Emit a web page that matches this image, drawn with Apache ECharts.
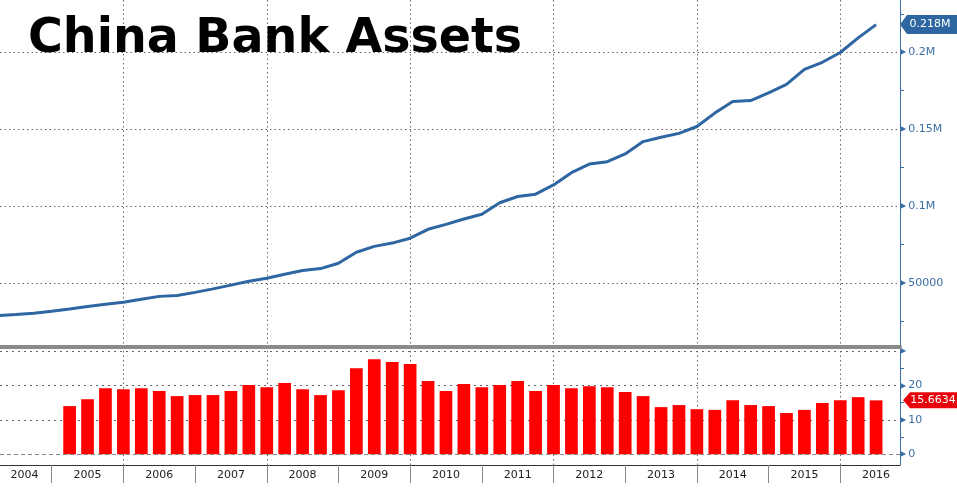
<!DOCTYPE html>
<html><head><meta charset="utf-8">
<script src="https://cdn.jsdelivr.net/npm/echarts@6/dist/echarts.min.js"></script>
<style>html,body{margin:0;padding:0;background:#fff;}#c{width:957px;height:488px;}</style>
</head><body><div id="c"></div>
<script>
// ---- data ----
const quarters = [
 '2004Q1','2004Q2','2004Q3','2004Q4','2005Q1','2005Q2','2005Q3','2005Q4',
 '2006Q1','2006Q2','2006Q3','2006Q4','2007Q1','2007Q2','2007Q3','2007Q4',
 '2008Q1','2008Q2','2008Q3','2008Q4','2009Q1','2009Q2','2009Q3','2009Q4',
 '2010Q1','2010Q2','2010Q3','2010Q4','2011Q1','2011Q2','2011Q3','2011Q4',
 '2012Q1','2012Q2','2012Q3','2012Q4','2013Q1','2013Q2','2013Q3','2013Q4',
 '2014Q1','2014Q2','2014Q3','2014Q4','2015Q1','2015Q2','2015Q3','2015Q4',
 '2016Q1','2016Q2'];
const assets = [
 28700, 29500, 30360, 31660, 33100, 34700, 36150, 37500,
 39470, 41300, 41900, 43900, 46160, 48630, 51170, 53100,
 55660, 58130, 59360, 62870, 69960, 73800, 75940, 79130,
 84920, 88100, 91600, 94730, 102200, 106240, 107740, 113780,
 121700, 127300, 128870, 133940, 141940, 144730, 147270, 151760,
 160470, 168000, 168600, 173600, 179130, 188880, 193500, 199870,
 209360, 218000];
const growthQuarters = quarters.slice(4);
const growth = [
 14.0, 16.0, 19.2, 18.9, 19.2, 18.4, 16.9, 17.2,
 17.2, 18.4, 20.1, 19.5, 20.7, 18.9, 17.2, 18.6,
 25.0, 27.6, 26.8, 26.2, 21.3, 18.4, 20.4, 19.5,
 20.1, 21.3, 18.4, 20.1, 19.2, 19.8, 19.5, 18.1,
 16.9, 13.7, 14.3, 13.1, 12.9, 15.7, 14.3, 14.0,
 12.0, 12.9, 14.9, 15.7, 16.6, 15.6634];
const yearLabels = ['2004','2005','2006','2007','2008','2009','2010','2011','2012','2013','2014','2015','2016'];
const assetTicks = [50000, 100000, 150000, 200000];
const growthTicks = [0, 10, 20, 30];

// ---- helpers ----
const qx = q => parseInt(q.slice(0, 4), 10) + parseInt(q.slice(5), 10) / 4;
const XMIN = 2004.279, XMAX = 2016 + 10 / 12;
const tickYears = yearLabels.slice(1).map(Number);
const labelPos = yearLabels.map((y, i) => i === 0 ? (XMIN + Number(y) + 1) / 2 - 0.02 : Number(y) + 0.5);
const FONT = 'DejaVu Sans';
const BLUE = '#3a6ea5';
const LINEBLUE = '#2e66a2';
const grid = (o) => Object.assign({left: 0, right: 57, containLabel: false}, o);
const fmtAsset = v => v >= 100000 ? (v / 1e6) + 'M' : String(v);
const tag = 'path://M0,8 L7,0 L60,0 L60,16 L7,16 Z';
const dotted = {color: '#666', type: [1.5, 3], width: 1};
const richLbl = {a: {fontSize: 8, color: BLUE, fontFamily: FONT},
                 b: {fontSize: 11, color: BLUE, fontFamily: FONT, padding: [0, 0, 0, 2]}};

const chart = echarts.init(document.getElementById('c'), null, {renderer: 'canvas'});
chart.setOption({
  animation: false,
  backgroundColor: '#fff',
  title: {
    text: 'China Bank Assets', left: 23, top: 11,
    textStyle: {fontFamily: FONT, fontWeight: 'bold', fontSize: 47.5, color: '#000'}
  },
  grid: [
    grid({top: 0, height: 465}),
    grid({top: 0, height: 346.7}),
    grid({top: 348.7, height: 105.6})
  ],
  xAxis: [
    {gridIndex: 0, type: 'value', min: XMIN, max: XMAX, position: 'bottom',
     axisLine: {show: true, onZero: false, lineStyle: {color: '#333', width: 1}},
     axisTick: {show: true, length: 18, lineStyle: {color: '#888'}, customValues: tickYears},
     axisLabel: {show: true, customValues: labelPos, formatter: v => String(Math.floor(v)),
                 color: '#222', fontFamily: FONT, fontSize: 11, margin: 5},
     splitLine: {show: false}},
    {gridIndex: 0, type: 'value', min: XMIN, max: XMAX, minInterval: 2, maxInterval: 2,
     axisLine: {show: false, onZero: false}, axisTick: {show: false}, axisLabel: {show: false},
     splitLine: {show: true, showMinLine: false, showMaxLine: false, lineStyle: dotted}},
    {gridIndex: 1, type: 'value', min: XMIN, max: XMAX, show: false},
    {gridIndex: 2, type: 'value', min: XMIN, max: XMAX, position: 'top', offset: 2, z: 10,
     axisLine: {show: true, onZero: false, lineStyle: {color: '#8a8a8a', width: 4}},
     axisTick: {show: false}, axisLabel: {show: false}, splitLine: {show: false}}
  ],
  yAxis: [
    {gridIndex: 0, type: 'value', position: 'right', min: 0, max: 1, z: 5,
     axisLine: {show: true, onZero: false, lineStyle: {color: BLUE, width: 1}},
     axisTick: {show: false}, axisLabel: {show: false}, splitLine: {show: false}},
    {gridIndex: 1, type: 'value', position: 'right', min: 8580, max: 234000,
     minInterval: 50000, maxInterval: 50000,
     axisLine: {show: false, onZero: false}, axisTick: {show: false},
     minorTick: {show: true, splitNumber: 2, length: 4, lineStyle: {color: BLUE}},
     axisLabel: {show: true, margin: 0, showMinLabel: true, showMaxLabel: true,
       formatter: v => assetTicks.indexOf(v) >= 0 ? '{a|▶}{b|' + fmtAsset(v) + '}' : '',
       rich: richLbl},
     splitLine: {show: true, showMinLine: false, showMaxLine: false, lineStyle: dotted}},
    {gridIndex: 2, type: 'value', position: 'right', min: 0, max: 30.67,
     minInterval: 10, maxInterval: 10,
     axisLine: {show: false, onZero: false}, axisTick: {show: false},
     minorTick: {show: true, splitNumber: 2, length: 4, lineStyle: {color: BLUE}},
     axisLabel: {show: true, margin: 0,
       formatter: v => growthTicks.indexOf(v) < 0 ? '' : (v === 30 ? '{a|▶}' : '{a|▶}{b|' + v + '}'),
       rich: richLbl},
     splitLine: {show: true, showMinLine: false, showMaxLine: false,
                 lineStyle: {color: '#666', type: [2, 4], width: 1}}}
  ],
  series: [
    {type: 'line', xAxisIndex: 2, yAxisIndex: 1, clip: false,
     data: assets.map((v, i) => [qx(quarters[i]), v]),
     symbol: 'none', showSymbol: false, smooth: false,
     lineStyle: {color: LINEBLUE, width: 3}, z: 3,
     markPoint: {symbol: tag, symbolSize: [60, 19], symbolOffset: [30, 0], symbolKeepAspect: false,
       itemStyle: {color: LINEBLUE},
       label: {show: true, color: '#fff', fontFamily: FONT, fontSize: 11,
               formatter: p => (p.value / 1e6).toFixed(3) + 'M'},
       data: [{coord: [XMAX, assets[assets.length - 1]], value: assets[assets.length - 1]}]}},
    {type: 'bar', xAxisIndex: 3, yAxisIndex: 2, clip: false,
     data: growth.map((v, i) => [qx(growthQuarters[i]), v]),
     barWidth: 12.7, itemStyle: {color: '#ff0000'}, z: 3,
     markLine: {silent: true, symbol: ['none', 'none'], label: {show: false},
       lineStyle: {color: '#888', type: [4, 3], width: 1}, data: [{yAxis: 0}]},
     markPoint: {symbol: tag, symbolSize: [60, 16], symbolOffset: [33, 0], symbolKeepAspect: false,
       itemStyle: {color: '#e8000b'},
       label: {show: true, color: '#fff', fontFamily: FONT, fontSize: 11,
               formatter: p => p.value.toFixed(4)},
       data: [{coord: [XMAX, growth[growth.length - 1]], value: growth[growth.length - 1]}]}}
  ]
});
</script></body></html>
